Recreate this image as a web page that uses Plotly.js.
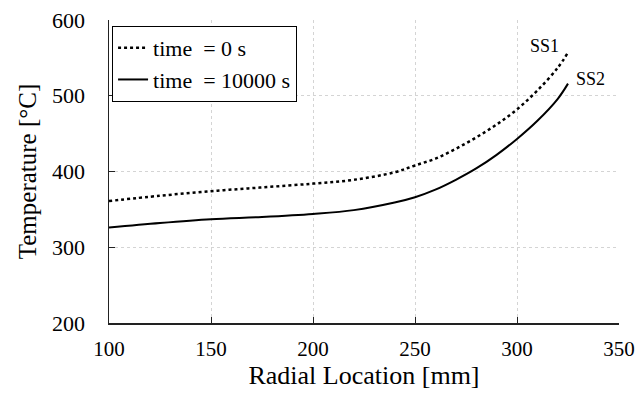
<!DOCTYPE html>
<html>
<head>
<meta charset="utf-8">
<script src="https://cdn.plot.ly/plotly-3.0.1.min.js"></script>
<style>html,body{margin:0;padding:0;background:#fff;}#chart{width:635px;height:403px;}</style>
</head>
<body>
<div id="chart"></div>
<script>
const radius = [100,125,150,175,200,220,240,250,260,270,280,290,300,310,320,325];
const temp0 = [361,368,374,379,384,389,399,408,417,430,445,462,482,507,537,557];
const temp10000 = [326,332,337,340,344,349,359,366,376,389,404,422,443,467,496,516];
const seriesNames = ["time\u00a0\u00a0= 0 s", "time\u00a0\u00a0= 10000 s"];
const labels = ["SS1","SS2"];

const font = "Liberation Serif";
const traces = [
  {x: radius, y: temp0, mode:'lines', name: seriesNames[0], line:{color:'#000', width:2.5, dash:'dot', shape:'spline'}},
  {x: radius, y: temp10000, mode:'lines', name: seriesNames[1], line:{color:'#000', width:2, shape:'spline'}}
];
const layout = {
  width:635, height:403,
  margin:{l:109, r:16, t:20, b:80},
  paper_bgcolor:'#fff', plot_bgcolor:'#fff',
  font:{family:font, size:22, color:'#000'},
  showlegend:true,
  legend:{x:0.006, y:0.98, xanchor:'left', yanchor:'top', bgcolor:'#fff', bordercolor:'#000', borderwidth:1, font:{family:font, size:22, color:'#000'}, tracegroupgap:0},
  xaxis:{range:[100,350], dtick:50, tick0:100, showline:true, linecolor:'#222', linewidth:1.5, ticks:'inside', ticklen:6, tickcolor:'#222', showgrid:true, gridcolor:'#d4d4d4', griddash:'3px,3px', gridwidth:1, zeroline:false, ticklabelstandoff:6, ticklabeloverflow:'allow', title:{text:'Radial Location [mm]', font:{family:font, size:26, color:'#000'}, standoff:6}, tickfont:{family:font, size:21, color:'#000'}},
  yaxis:{range:[200,600], dtick:100, tick0:200, showline:true, linecolor:'#222', linewidth:1.5, ticks:'inside', ticklen:6, tickcolor:'#222', showgrid:true, gridcolor:'#d4d4d4', griddash:'3px,3px', gridwidth:1, zeroline:false, ticklabelstandoff:18, ticklabeloverflow:'allow', title:{text:'Temperature [°C]', font:{family:font, size:25, color:'#000'}, standoff:8}, tickfont:{family:font, size:22, color:'#000'}},
  annotations:[
    {x:313.5, y:566, text:labels[0], showarrow:false, font:{family:font, size:18, color:'#000'}, xref:'x', yref:'y'},
    {x:336, y:522, text:labels[1], showarrow:false, font:{family:font, size:18, color:'#000'}, xref:'x', yref:'y'}
  ]
};
Plotly.newPlot('chart', traces, layout, {displayModeBar:false, staticPlot:true});
</script>
</body>
</html>
